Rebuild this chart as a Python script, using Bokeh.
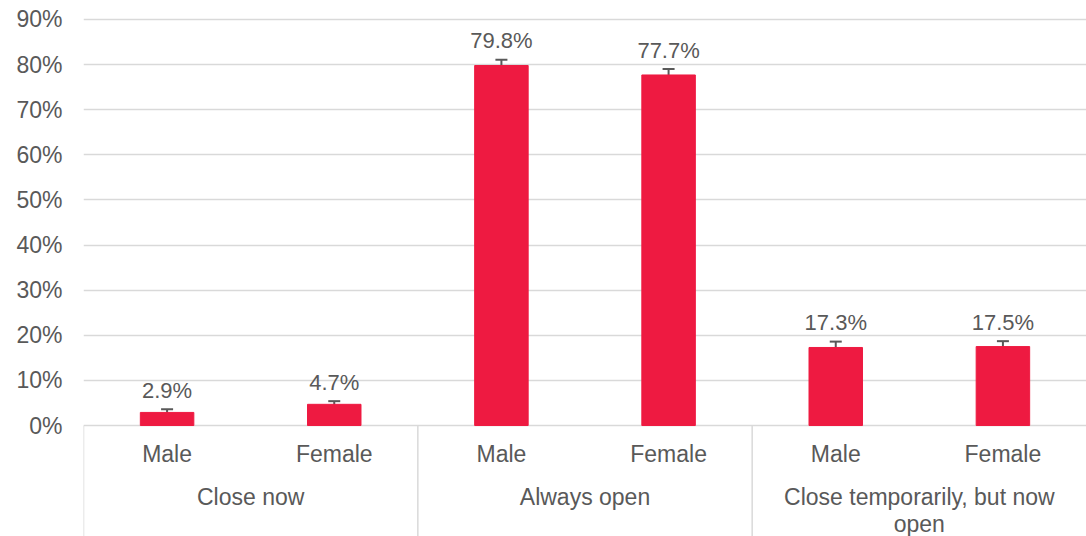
from bokeh.plotting import figure
from bokeh.models import FactorRange, Range1d, FixedTicker, PrintfTickFormatter, ColumnDataSource, Whisker, TeeHead
from bokeh.core.properties import value
from bokeh.embed import file_html
from bokeh.resources import INLINE
import textwrap

groups = ["Close now", "Always open", "Close temporarily, but now open"]
sexes = ["Male", "Female"]
values = [2.9, 4.7, 79.8, 77.7, 17.3, 17.5]
errors = [0.7, 0.7, 1.3, 1.3, 1.3, 1.2]
y_ticks = [0, 10, 20, 30, 40, 50, 60, 70, 80, 90]

factors = [(g, s) for g in groups for s in sexes]

TXT = "#595959"
FONT = "Liberation Sans"
RED = "#EE1A41"

p = figure(width=1086, height=536, output_backend="svg", toolbar_location=None,
           x_range=FactorRange(*factors, group_padding=0, factor_padding=0, range_padding=0),
           y_range=Range1d(-24.6, 94.21),
           min_border_left=83, min_border_right=0, min_border_top=0, min_border_bottom=0)
p.outline_line_color = None
p.xaxis.visible = False
p.xgrid.visible = False

yax = p.yaxis[0]
yax.ticker = FixedTicker(ticks=y_ticks)
yax.formatter = PrintfTickFormatter(format="%d%%")
yax.axis_line_color = None
yax.major_tick_line_color = None
yax.minor_tick_line_color = None
yax.major_tick_out = 0
yax.major_tick_in = 0
yax.major_label_standoff = 21
yax.major_label_text_font = FONT
yax.major_label_text_font_size = "23px"
yax.major_label_text_color = TXT
p.ygrid.ticker = FixedTicker(ticks=y_ticks)
p.ygrid.grid_line_color = "#D9D9D9"
p.ygrid.grid_line_width = 1.5

src = ColumnDataSource(dict(
    x=factors, top=values,
    upper=[v + e for v, e in zip(values, errors)],
    lower=[v - e for v, e in zip(values, errors)],
    lab=[f"{v:.1f}%" for v in values],
    sex=[s for g, s in factors],
))

p.vbar(x="x", top="top", width=0.32, source=src, fill_color=RED, line_color=RED)

wh = Whisker(base="x", upper="upper", lower="lower", source=src, line_color="#595959", line_width=2,
             upper_head=TeeHead(size=12, line_color="#595959", line_width=2),
             lower_head=TeeHead(size=12, line_color="#595959", line_width=2))
p.add_layout(wh)

p.text(x="x", y="upper", text="lab", source=src, text_align="center", text_baseline="alphabetic",
       y_offset=-19, text_font=value(FONT), text_font_size="22px", text_color=TXT)

# category labels
p.text(x="x", y=0, text="sex", source=src, text_align="center", text_baseline="alphabetic",
       y_offset=28, text_font=value(FONT), text_font_size="23px", text_color=TXT)

gsrc = ColumnDataSource(dict(
    x=[(g, "Male", 0.5) for g in groups],
    sep=[(g, "Male", -0.5) for g in groups],
    lab=[textwrap.fill(g, 26) for g in groups],
))
p.text(x="x", y=0, text="lab", source=gsrc, text_align="center", text_baseline="top",
       y_offset=58, text_font=value(FONT), text_font_size="23px", text_color=TXT, text_line_height=1.05)
p.segment(x0="sep", y0=0, x1="sep", y1=-30, source=gsrc, line_color="#D9D9D9", line_width=1.5)

open("out.html", "w").write(file_html(p, INLINE))
